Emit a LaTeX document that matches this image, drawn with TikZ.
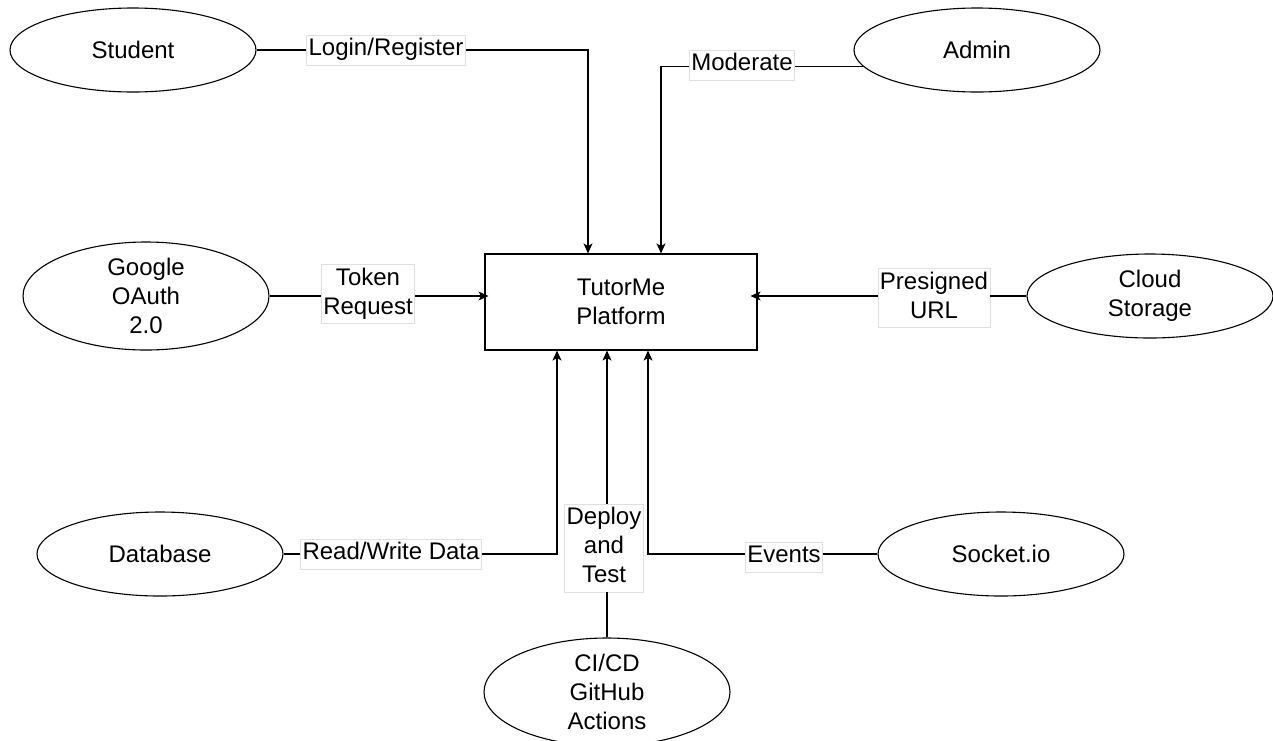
\documentclass[tikz,border=0pt]{standalone}
\usepackage{fontspec}
\setmainfont{Liberation Sans}
\usetikzlibrary{shapes.geometric,arrows.meta}
\newcommand{\ls}{\strut}
\begin{document}
\begin{tikzpicture}[x=1pt,y=-1pt,
  every node/.style={font=\fontsize{24}{29}\selectfont},
  ent/.style={ellipse,draw=black,line width=1.1pt,minimum width=246pt,minimum height=84pt,inner sep=0pt,align=center},
  ent3/.style={ent,minimum height=108pt},
  proc/.style={rectangle,draw=black,line width=1.1pt,minimum width=272pt,minimum height=96pt,inner sep=0pt,align=center},
  lbl/.style={fill=white,draw=black!12,line width=0.5pt,inner xsep=2pt,inner ysep=0.5pt,align=center},
  conn/.style={line width=1.1pt,draw=black},
  arr/.style={conn,-{Stealth[length=10pt,width=9pt,inset=2.5pt]}}]
\useasboundingbox (0,0) rectangle (1273,740);
% entities
\node[ent] (student) at (133,50) {Student};
\node[ent] (admin) at (977,50) {Admin};
\node[ent3] (google) at (146,296) {Google\\OAuth\\2.0};
\node[ent] (cloud) at (1150,296) {Cloud\\Storage};
\node[ent] (database) at (160,554) {Database};
\node[ent] (socket) at (1001,554) {Socket.io};
\node[ent3] (cicd) at (607,692) {CI/CD\\GitHub\\Actions};
\node[proc] (box) at (621,302) {TutorMe\\Platform};
% labels
\node[lbl] (login) at (386,50) {\ls Login/Register};
\node[lbl] (moderate) at (742,65) {\ls Moderate};
\node[lbl] (token) at (368,294) {\ls Token\\\ls Request};
\node[lbl] (presigned) at (934,298) {\ls Presigned\\\ls URL};
\node[lbl] (rw) at (391,554) {\ls Read/Write Data};
\node[lbl] (events) at (784,557) {\ls Events};
\node[lbl] (deploy) at (604,548) {\ls Deploy\\\ls and\\\ls Test};
% connectors
\draw[conn] (student.east) -- (login.west);
\draw[arr] (login.east) -| ([xshift=-33pt]box.north);
\draw[conn] (admin.188) -- (admin.188 -| moderate.east);
\draw[arr] (moderate.west |- admin.188) -| ([xshift=40pt]box.north);
\draw[conn] (google.east) -- (google.east -| token.west);
\draw[arr] (google.east -| token.east) -- ([xshift=4pt]box.west |- google.east);
\draw[conn] (cloud.west) -- (cloud.west -| presigned.east);
\draw[arr] (cloud.west -| presigned.west) -- ([xshift=-7pt]box.east |- cloud.west);
\draw[conn] (database.east) -- (rw.west);
\draw[arr] (rw.east) -| ([xshift=-64pt]box.south);
\draw[conn] (socket.west) -- (socket.west -| events.east);
\draw[arr] (socket.west -| events.west) -| ([xshift=27pt]box.south);
\draw[conn] (cicd.north) -- (cicd.north |- deploy.south);
\draw[arr] (cicd.north |- deploy.north) -- (cicd.north |- box.south);
\end{tikzpicture}
\end{document}
